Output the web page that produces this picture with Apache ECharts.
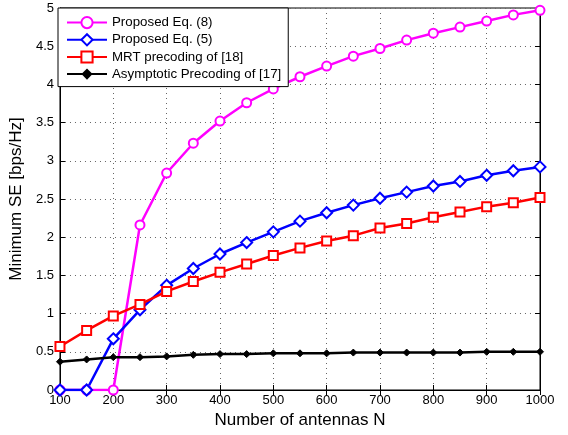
<!DOCTYPE html>
<html>
<head>
<meta charset="utf-8">
<script src="https://cdn.jsdelivr.net/npm/echarts@6/dist/echarts.min.js"></script>
<style>
  html, body { margin: 0; padding: 0; background: #fff; }
  #main { width: 568px; height: 435px; }
</style>
</head>
<body>
<div id="main"></div>
<script>
var antennas = [100, 150, 200, 250, 300, 350, 400, 450, 500, 550, 600, 650, 700, 750, 800, 850, 900, 950, 1000];
var proposedEq8 = [0, 0, 0, 2.16, 2.84, 3.23, 3.52, 3.76, 3.94, 4.10, 4.24, 4.37, 4.47, 4.58, 4.67, 4.75, 4.83, 4.91, 4.97];
var proposedEq5 = [0, 0, 0.67, 1.05, 1.37, 1.59, 1.78, 1.93, 2.07, 2.21, 2.32, 2.42, 2.51, 2.59, 2.67, 2.73, 2.81, 2.87, 2.92];
var mrtPrecoding = [0.57, 0.78, 0.97, 1.12, 1.29, 1.42, 1.54, 1.65, 1.76, 1.86, 1.95, 2.02, 2.12, 2.18, 2.26, 2.33, 2.40, 2.45, 2.52];
var asymptotic = [0.37, 0.40, 0.43, 0.43, 0.44, 0.46, 0.47, 0.47, 0.48, 0.48, 0.48, 0.49, 0.49, 0.49, 0.49, 0.49, 0.50, 0.50, 0.50];
var seriesNames = ['Proposed Eq. (8)', 'Proposed Eq. (5)', 'MRT precoding of [18]', 'Asymptotic Precoding of [17]'];

var myChart = echarts.init(document.getElementById('main'));

function pairs(values) {
    return antennas.map(function(n, i) { return [n, values[i]]; });
}

function makeSeries(name, values, color, symbol, size, hollow) {
    return {
        name: name,
        type: 'line',
        data: pairs(values),
        symbol: symbol,
        symbolSize: size,
        showAllSymbol: true,
        lineStyle: { color: color, width: 2.5 },
        itemStyle: hollow ? { color: '#fff', borderColor: color, borderWidth: 2 } : { color: color, borderColor: color },
        emphasis: { disabled: true },
        animation: false
    };
}

var font = 'Liberation Sans, Arial, sans-serif';

var option = {
    animation: false,
    grid: { left: 57, right: 28, top: 8, bottom: 45, show: true, borderColor: '#000', borderWidth: 1 },
    legend: {
        data: seriesNames,
        orient: 'vertical',
        left: 58,
        top: 8,
        padding: [8, 7, 6, 8],
        itemWidth: 40,
        itemHeight: 14,
        itemGap: 4,
        backgroundColor: '#fff',
        borderColor: '#000',
        borderWidth: 1,
        textStyle: { fontFamily: font, fontSize: 13.3, color: '#000' },
        z: 10
    },
    xAxis: [{
        type: 'value',
        min: 100,
        max: 1000,
        interval: 100,
        name: 'Number of antennas N',
        nameLocation: 'middle',
        nameGap: 20,
        nameTextStyle: { fontFamily: font, fontSize: 17, color: '#000' },
        axisLine: { onZero: false, lineStyle: { color: '#000' } },
        axisTick: { inside: true, length: 5, lineStyle: { color: '#000' } },
        axisLabel: { fontFamily: font, fontSize: 13, color: '#000', margin: 4, formatter: function(v) { return String(v); } },
        splitLine: { show: true, lineStyle: { type: [1, 4], color: '#666' } }
    }, {
        type: 'value',
        position: 'top',
        min: 100,
        max: 1000,
        interval: 100,
        axisLine: { show: true, lineStyle: { color: '#000' } },
        axisTick: { inside: true, length: 5, lineStyle: { color: '#000' } },
        axisLabel: { show: false },
        splitLine: { show: false }
    }],
    yAxis: [{
        type: 'value',
        min: 0,
        max: 5,
        interval: 0.5,
        name: 'Minimum SE [bps/Hz]',
        nameLocation: 'middle',
        nameGap: 29,
        nameTextStyle: { fontFamily: font, fontSize: 17, color: '#000' },
        axisLine: { show: true, lineStyle: { color: '#000' } },
        axisTick: { show: true, inside: true, length: 5, lineStyle: { color: '#000' } },
        axisLabel: { fontFamily: font, fontSize: 13, color: '#000', margin: 6 },
        splitLine: { show: true, lineStyle: { type: [1, 4], color: '#666' } }
    }, {
        type: 'value',
        position: 'right',
        min: 0,
        max: 5,
        interval: 0.5,
        axisLine: { show: true, lineStyle: { color: '#000' } },
        axisTick: { show: true, inside: true, length: 5, lineStyle: { color: '#000' } },
        axisLabel: { show: false },
        splitLine: { show: false }
    }],
    series: [
        makeSeries(seriesNames[0], proposedEq8, '#ff00ff', 'circle', 9, true),
        makeSeries(seriesNames[1], proposedEq5, '#0000ff', 'diamond', 11, true),
        makeSeries(seriesNames[2], mrtPrecoding, '#ff0000', 'rect', 9, true),
        makeSeries(seriesNames[3], asymptotic, '#000000', 'diamond', 7, false)
    ]
};

myChart.setOption(option);
</script>
</body>
</html>
